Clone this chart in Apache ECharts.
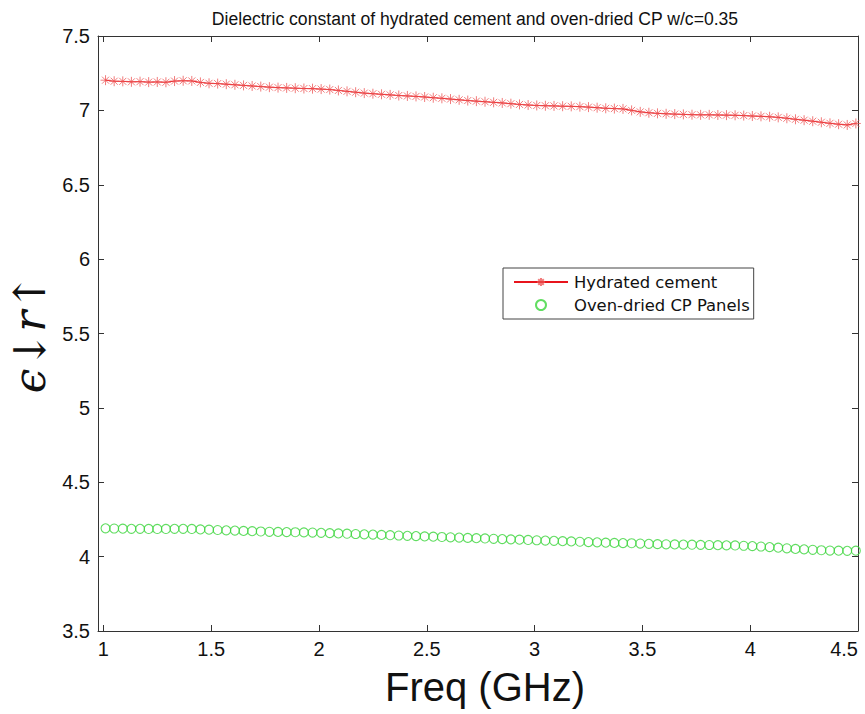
<!DOCTYPE html>
<html>
<head>
<meta charset="utf-8">
<script src="https://cdn.jsdelivr.net/npm/echarts@6/dist/echarts.min.js"></script>
<style>
  html, body { margin: 0; padding: 0; background: #fff; }
  #chart { width: 865px; height: 714px; }
</style>
</head>
<body>
<div id="chart"></div>
<script>
// Frequency sweep (GHz)
const freq = [
  1.01, 1.05, 1.09, 1.13, 1.17, 1.21, 1.25, 1.29, 1.33, 1.37,
  1.41, 1.45, 1.49, 1.53, 1.57, 1.61, 1.65, 1.69, 1.73, 1.77,
  1.81, 1.85, 1.89, 1.93, 1.97, 2.01, 2.05, 2.09, 2.13, 2.17,
  2.21, 2.25, 2.29, 2.33, 2.37, 2.41, 2.45, 2.49, 2.53, 2.57,
  2.61, 2.65, 2.69, 2.73, 2.77, 2.81, 2.85, 2.89, 2.93, 2.97,
  3.01, 3.05, 3.09, 3.13, 3.17, 3.21, 3.25, 3.29, 3.33, 3.37,
  3.41, 3.45, 3.49, 3.53, 3.57, 3.61, 3.65, 3.69, 3.73, 3.77,
  3.81, 3.85, 3.89, 3.93, 3.97, 4.01, 4.05, 4.09, 4.13, 4.17,
  4.21, 4.25, 4.29, 4.33, 4.37, 4.41, 4.45, 4.49
];

// Relative permittivity, hydrated cement
const hydratedCement = [
  7.203, 7.196, 7.195, 7.192, 7.193, 7.190, 7.191, 7.189, 7.197, 7.199,
  7.198, 7.188, 7.182, 7.180, 7.176, 7.172, 7.168, 7.164, 7.160, 7.156,
  7.153, 7.151, 7.149, 7.147, 7.146, 7.143, 7.140, 7.134, 7.128, 7.122,
  7.116, 7.112, 7.108, 7.104, 7.100, 7.097, 7.094, 7.090, 7.085, 7.081,
  7.076, 7.071, 7.066, 7.062, 7.058, 7.054, 7.050, 7.045, 7.040, 7.036,
  7.033, 7.031, 7.030, 7.028, 7.027, 7.025, 7.022, 7.018, 7.014, 7.012,
  7.010, 7.000, 6.990, 6.984, 6.980, 6.977, 6.975, 6.973, 6.971, 6.970,
  6.970, 6.969, 6.968, 6.967, 6.965, 6.962, 6.960, 6.957, 6.953, 6.947,
  6.940, 6.934, 6.927, 6.920, 6.913, 6.907, 6.902, 6.912
];

// Relative permittivity, oven-dried CP panels
const ovenDriedCP = [
  4.190, 4.189, 4.188, 4.187, 4.187, 4.186, 4.186, 4.186, 4.187, 4.187,
  4.186, 4.183, 4.181, 4.179, 4.177, 4.175, 4.173, 4.171, 4.169, 4.167,
  4.166, 4.165, 4.164, 4.163, 4.162, 4.160, 4.158, 4.156, 4.154, 4.152,
  4.150, 4.148, 4.146, 4.144, 4.142, 4.140, 4.138, 4.136, 4.134, 4.132,
  4.130, 4.128, 4.126, 4.124, 4.122, 4.120, 4.118, 4.116, 4.114, 4.112,
  4.110, 4.108, 4.106, 4.104, 4.102, 4.100, 4.098, 4.096, 4.094, 4.092,
  4.091, 4.090, 4.088, 4.086, 4.084, 4.083, 4.082, 4.081, 4.080, 4.079,
  4.078, 4.077, 4.076, 4.075, 4.073, 4.071, 4.068, 4.064, 4.060, 4.056,
  4.052, 4.049, 4.046, 4.043, 4.041, 4.040, 4.039, 4.040
];

const xTicks = [1, 1.5, 2, 2.5, 3, 3.5, 4, 4.5];
const seriesNames = ['Hydrated cement', 'Oven-dried CP Panels'];
const titleText = 'Dielectric constant of hydrated cement and oven-dried CP w/c=0.35';
const xName = 'Freq (GHz)';
const yName = 'ϵ↓r↑';

const pairs = (xs, ys) => xs.map((x, i) => [x, ys[i]]);

const asterisk = 'path://M5,0L5,10M0,5L10,5M1.5,1.5L8.5,8.5M1.5,8.5L8.5,1.5';
const axisColor = '#333';
const tickFont = { fontFamily: '"Liberation Sans Narrow", "Liberation Sans", Arial, sans-serif', fontSize: 20, color: '#111' };

const chart = echarts.init(document.getElementById('chart'), null, { renderer: 'svg' });

chart.setOption({
  backgroundColor: '#fff',
  animation: false,
  title: {
    text: titleText,
    left: 470,
    top: 5,
    textAlign: 'center',
    textStyle: {
      fontFamily: '"Liberation Sans Narrow", "Liberation Sans", Arial, sans-serif',
      fontSize: 17.6, fontWeight: 'normal', color: '#111'
    }
  },
  legend: {
    orient: 'vertical',
    left: 503,
    top: 268,
    padding: [6, 4, 6, 10],
    itemGap: 7,
    itemWidth: 54,
    itemHeight: 10,
    borderColor: '#444',
    borderWidth: 1,
    backgroundColor: '#fff',
    textStyle: { fontFamily: '"DejaVu Sans", sans-serif', fontSize: 16.4, color: '#111', padding: [0, 0, 0, 1] },
    data: [
      { name: seriesNames[0] },
      { name: seriesNames[1] }
    ]
  },
  grid: { left: 98, right: 7, top: 36, bottom: 83, outerBoundsMode: 'none' },
  xAxis: [
    {
      type: 'value', min: 0.975, max: 4.5,
      name: xName, nameLocation: 'middle', nameGap: 36,
      nameTextStyle: { fontFamily: '"Liberation Sans", Arial, sans-serif', fontSize: 40, color: '#111', padding: [0, 0, 0, 14] },
      axisLine: { show: true, lineStyle: { color: axisColor } },
      axisTick: { show: true, inside: true, length: 6, customValues: xTicks, lineStyle: { color: axisColor } },
      axisLabel: { show: true, margin: 8, customValues: xTicks, alignMaxLabel: 'right', ...tickFont },
      splitLine: { show: false }
    },
    {
      type: 'value', position: 'top', min: 0.975, max: 4.5,
      axisLine: { show: true, lineStyle: { color: axisColor } },
      axisTick: { show: true, inside: true, length: 6, customValues: xTicks, lineStyle: { color: axisColor } },
      axisLabel: { show: false },
      splitLine: { show: false }
    }
  ],
  yAxis: [
    {
      type: 'value', min: 3.5, max: 7.5, interval: 0.5,
      name: yName, nameLocation: 'middle', nameGap: 44, nameRotate: 90,
      nameTextStyle: { fontFamily: '"DejaVu Serif", serif', fontStyle: 'italic', fontSize: 44, color: '#111' },
      axisLine: { show: true, lineStyle: { color: axisColor } },
      axisTick: { show: true, inside: true, length: 6, lineStyle: { color: axisColor } },
      axisLabel: { show: true, margin: 8, ...tickFont },
      splitLine: { show: false }
    },
    {
      type: 'value', position: 'right', min: 3.5, max: 7.5, interval: 0.5,
      axisLine: { show: true, lineStyle: { color: axisColor } },
      axisTick: { show: true, inside: true, length: 6, lineStyle: { color: axisColor } },
      axisLabel: { show: false },
      splitLine: { show: false }
    }
  ],
  series: [
    {
      name: seriesNames[0],
      type: 'line',
      data: pairs(freq, hydratedCement),
      symbol: asterisk,
      symbolSize: 10,
      showAllSymbol: true,
      lineStyle: { color: '#e8141c', width: 1 },
      itemStyle: { color: '#e8141c', borderColor: 'rgba(236,80,80,0.75)', borderWidth: 1 },
      emphasis: { disabled: true }
    },
    {
      name: seriesNames[1],
      type: 'scatter',
      data: pairs(freq, ovenDriedCP),
      symbol: 'circle',
      symbolSize: 9,
      itemStyle: { color: 'rgba(0,0,0,0)', borderColor: '#3ad43a', borderWidth: 1.1 },
      emphasis: { disabled: true }
    }
  ]
});
</script>
</body>
</html>
